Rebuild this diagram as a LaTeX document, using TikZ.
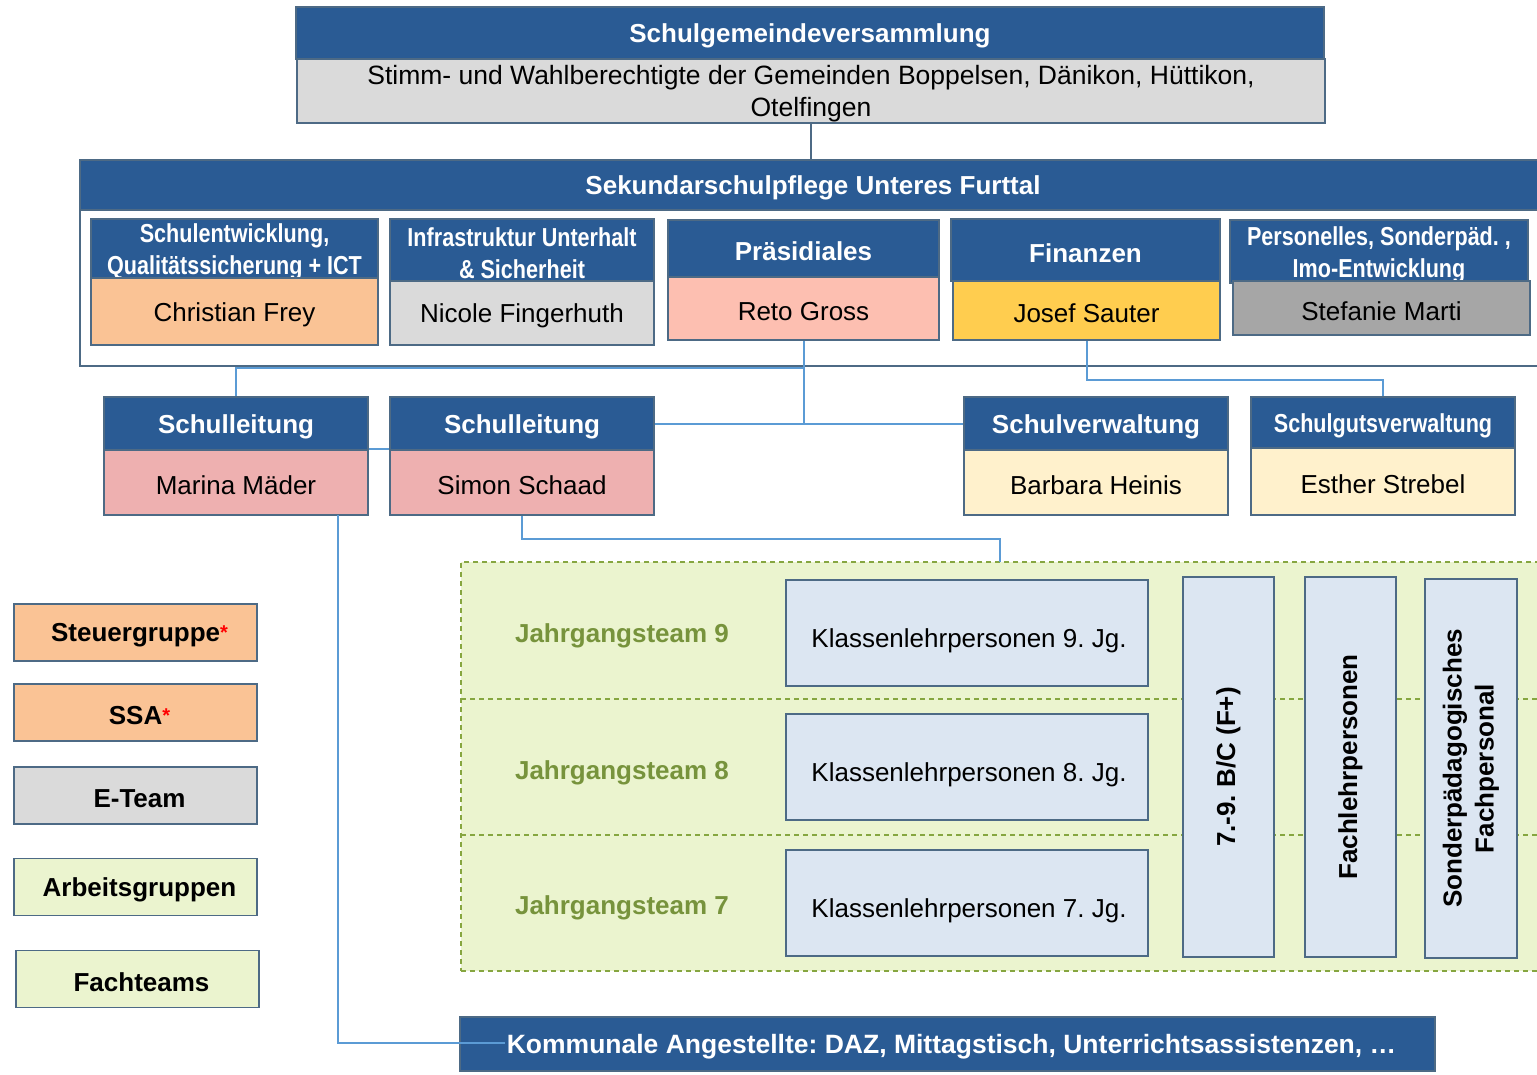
\documentclass[tikz,border=0pt]{standalone}
\usepackage{fontspec}
\setmainfont{Liberation Sans}
\newfontfamily\narrowfont[FakeStretch=0.83]{Liberation Sans}
\usetikzlibrary{calc}
\definecolor{hblue}{HTML}{2A5B94}
\definecolor{bord}{HTML}{4D6A85}
\definecolor{conn}{HTML}{5B9BD5}
\definecolor{peach}{HTML}{FAC395}
\definecolor{lgrey}{HTML}{DADADA}
\definecolor{salmon}{HTML}{FDBFB1}
\definecolor{gold}{HTML}{FFCD4F}
\definecolor{mgrey}{HTML}{A6A6A6}
\definecolor{rose}{HTML}{EEB0B0}
\definecolor{cream}{HTML}{FFF1CC}
\definecolor{lgreen}{HTML}{EBF4CF}
\definecolor{olive}{HTML}{86A640}
\definecolor{jtext}{HTML}{77933C}
\definecolor{lblue}{HTML}{DCE6F2}
\tikzset{
  box/.style={draw=bord, line width=1.6pt, inner sep=0pt},
  tl/.style={inner sep=0pt, align=center, yshift=-3pt, font=\fontsize{26}{31}\selectfont},
  H/.style={box, fill=hblue, label={[tl, text=white, font=\bfseries\fontsize{26}{31}\selectfont]center:{#1}}},
  Hn/.style={box, fill=hblue, label={[tl, text=white, font=\narrowfont\bfseries\fontsize{26}{32}\selectfont]center:{#1}}},
  B/.style 2 args={box, fill=#1, label={[tl]center:{#2}}},
  legend/.style 2 args={box, fill=#1, minimum width=243pt, minimum height=57pt,
    label={[tl, xshift=4pt, font=\bfseries\fontsize{26}{31}\selectfont]center:{#2}}},
  klbox/.style={box, fill=lblue, minimum width=362pt, minimum height=106pt,
    label={[tl, yshift=-5pt, xshift=2pt]center:{#1}}},
  vbox/.style={box, fill=lblue, rotate=90, align=center, font=\bfseries\fontsize{26}{32}\selectfont, minimum height=91pt},
  jteam/.style={inner sep=0pt, text=jtext, font=\bfseries\fontsize{26}{31}\selectfont},
  link/.style={draw=conn, line width=2pt},
  toplink/.style={draw=bord, line width=1.6pt},
  sep/.style={draw=olive, line width=1.3pt, dash pattern=on 5pt off 4pt},
}
\newcommand{\redstar}{\textcolor{red}{\raisebox{2pt}{\fontsize{20}{20}\selectfont *}}}
\begin{document}
\frenchspacing
\begin{tikzpicture}[x=1pt, y=-1pt]
\useasboundingbox (0,0) rectangle (1537,1074);
\clip (0,0) rectangle (1537,1074);
\fill[white] (0,0) rectangle (1537,1074);

% top
\node[H={Schulgemeindeversammlung}, minimum width=1028pt, minimum height=52pt] (sgvH) at (810,33) {};
\node[box, fill=lgrey, minimum width=1028pt, minimum height=64pt,
  label={[tl, font=\fontsize{26.5}{32}\selectfont]center:{Stimm- und Wahlberechtigte der Gemeinden Boppelsen, Dänikon, Hüttikon,\\Otelfingen}}] (sgvB) at (811,91) {};

% Sekundarschulpflege
\node[box, fill=white, minimum width=1466pt, minimum height=206pt] (spF) at (813,263) {};
\node[H={Sekundarschulpflege Unteres Furttal}, minimum width=1466pt, minimum height=50pt] (spH) at (813,185) {};
\draw[toplink] (sgvB.south) -- (sgvB.south |- spH.north);

\node[Hn={Schulentwicklung,\\Qualitätssicherung + ICT}, minimum width=287pt, minimum height=59pt] (seH) at (234.5,248.5) {};
\node[B={peach}{Christian Frey}, minimum width=287pt, minimum height=67pt] (seB) at (234.5,311.5) {};

\node[Hn={Infrastruktur Unterhalt\\\& Sicherheit}, minimum width=264pt, minimum height=62pt] (isH) at (522,250) {};
\node[B={lgrey}{Nicole Fingerhuth}, minimum width=264pt, minimum height=64pt] (isB) at (522,313) {};

\node[H={Präsidiales}, minimum width=271pt, minimum height=57pt] (prH) at (803.5,248.5) {};
\node[B={salmon}{Reto Gross}, minimum width=271pt, minimum height=63pt] (prB) at (803.5,308.5) {};

\node[H={Finanzen}, minimum width=269pt, minimum height=62pt] (fiH) at (1085.5,250) {};
\node[B={gold}{Josef Sauter}, minimum width=267pt, minimum height=59pt] (fiB) at (1086.5,310.5) {};

\node[Hn={Personelles, Sonderpäd. ,\\Imo-Entwicklung}, minimum width=298pt, minimum height=63pt] (peH) at (1379,251.5) {};
\node[B={mgrey}{Stefanie Marti}, minimum width=297pt, minimum height=54pt] (peB) at (1381.5,308) {};

% second row
\node[H={Schulleitung}, minimum width=264pt, minimum height=53pt] (slmH) at (236,423.5) {};
\node[B={rose}{Marina Mäder}, minimum width=264pt, minimum height=65pt] (slmB) at (236,482.5) {};

\node[H={Schulleitung}, minimum width=264pt, minimum height=53pt] (slsH) at (522,423.5) {};
\node[B={rose}{Simon Schaad}, minimum width=264pt, minimum height=65pt] (slsB) at (522,482.5) {};

\node[H={Schulverwaltung}, minimum width=264pt, minimum height=53pt] (svH) at (1096,423.5) {};
\node[B={cream}{Barbara Heinis}, minimum width=264pt, minimum height=65pt] (svB) at (1096,482.5) {};

\node[Hn={Schulgutsverwaltung}, minimum width=264pt, minimum height=51pt] (sgH) at (1383,422.5) {};
\node[B={cream}{Esther Strebel}, minimum width=264pt, minimum height=67pt] (sgB) at (1383,481.5) {};

% connectors row 1 -> row 2
\coordinate (bus) at (804,368);
\draw[link] (prB.south) -- (prB.south |- slsH.east);
\draw[link] (slsH.east) -- (svH.west);
\draw[link] (slmH.north) |- (bus);
\draw[link] (slmB.north east) -- (slsB.north west);
\draw[link] (fiB.south) -- ++(0,39) -| (sgH.north);

% green area
\node[draw=olive, line width=1.3pt, dash pattern=on 5pt off 4pt, fill=lgreen, inner sep=0pt,
  minimum width=1100pt, minimum height=409pt] (green) at (1011,766.5) {};
\draw[sep] (461,699) -- (1561,699);
\draw[sep] (461,835) -- (1561,835);
\coordinate (gtop) at (1000,562);
\draw[link] (slsB.south) -- ++(0,23) -| (gtop);

\node[jteam] (j9) at (622,636) {Jahrgangsteam 9};
\node[jteam] (j8) at (622,773) {Jahrgangsteam 8};
\node[jteam] (j7) at (622,908) {Jahrgangsteam 7};

\node[klbox={Klassenlehrpersonen 9. Jg.}] (k9) at (967,633) {};
\node[klbox={Klassenlehrpersonen 8. Jg.}] (k8) at (967,767) {};
\node[klbox={Klassenlehrpersonen 7. Jg.}] (k7) at (967,903) {};

\node[vbox, minimum width=380pt] (v1) at (1228.5,767) {7.-9. B/C (F+)};
\node[vbox, minimum width=380pt] (v2) at (1350.5,767) {Fachlehrpersonen};
\node[vbox, minimum width=379pt, minimum height=92pt] (v3) at (1471,768.5) {Sonderpädagogisches\\Fachpersonal};

% legend
\node[legend={peach}{Steuergruppe\redstar}] (lg1) at (135.5,632.5) {};
\node[legend={peach}{SSA\redstar}] (lg2) at (135.5,712.5) {};
\node[legend={lgrey}{E-Team}] (lg3) at (135.5,795.5) {};
\node[legend={lgreen}{Arbeitsgruppen}] (lg4) at (135.5,887) {};
\node[legend={lgreen}{Fachteams}] (lg5) at (137.5,979) {};

% bottom
\node[box, fill=hblue, minimum width=975pt, minimum height=54pt,
  label={[tl, xshift=4pt, text=white, font=\bfseries\fontsize{26.5}{31}\selectfont]center:{Kommunale Angestellte: DAZ, Mittagstisch, Unterrichtsassistenzen, …}}] (kom) at (947.5,1044) {};
\coordinate (mstart) at (338,515);
\coordinate (kend) at (505,1043);
\draw[link] (mstart) |- (kend);
\end{tikzpicture}
\end{document}
